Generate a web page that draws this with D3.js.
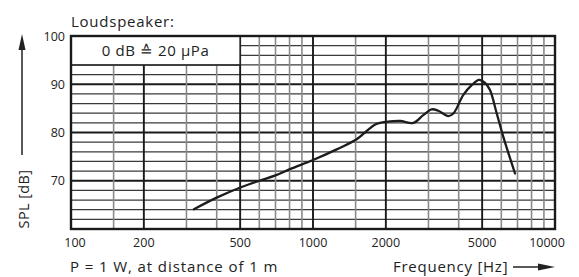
<!DOCTYPE html>
<html><head><meta charset="utf-8">
<script src="https://cdn.jsdelivr.net/npm/d3@7"></script>
<style>
html,body{margin:0;padding:0;background:#fff;}
svg{display:block;font-family:"Open Sans","Noto Sans",sans-serif;}
</style></head>
<body>
<svg id="c" width="579" height="277"></svg>
<script>
// ---- data ----
const freqHz = [322, 400, 507, 600, 700, 803, 1000, 1253, 1515, 1693, 1800, 1892, 2000, 2288, 2598, 2855, 3092, 3296, 3625, 3810, 4180, 4527, 4853, 5140, 5387, 5741, 6116, 6836];
const splDb  = [64.1, 66.5, 68.7, 70.0, 71.1, 72.4, 74.3, 76.5, 78.6, 80.6, 81.6, 82.0, 82.2, 82.4, 82.0, 83.6, 84.8, 84.5, 83.4, 84.0, 87.8, 89.8, 90.9, 90.3, 88.8, 84.0, 79.1, 71.5];
const xTickValues = [100, 200, 500, 1000, 2000, 5000, 10000];
const xTickLabels = ["100", "200", "500", "1000", "2000", "5000", "10000"];
const xGridMajor = [200, 500, 1000, 2000, 5000];
const xGridMinor = [150, 300, 400, 600, 700, 800, 900, 1500, 3000, 4000, 6000, 7000, 8000, 9000];
const yTickValues = [70, 80, 90, 100];
const yGridValues = [62, 64, 66, 68, 70, 72, 74, 76, 78, 80, 82, 84, 86, 88, 90, 92, 94, 96, 98];
const titleText = "Loudspeaker:";
const boxText = "0 dB \u2259 20 \u00B5Pa";
const yLabel = "SPL [dB]";
const xLabel = "Frequency [Hz]";
const noteText = "P = 1 W, at distance of 1 m";

// ---- layout ----
const L = 71, R = 555, T = 36, B = 229;
const svg = d3.select("#c");
const x = d3.scaleLog().domain([100, 10000]).range([L, R]);
const y = d3.scaleLinear().domain([60, 100]).range([B, T]);
const ink = "#222";

// grid
const g = svg.append("g");
g.selectAll("line.hy").data(yGridValues).join("line")
  .attr("x1", L).attr("x2", R)
  .attr("y1", d => y(d)).attr("y2", d => y(d))
  .attr("stroke", d => d % 10 === 0 ? "#1a1a1a" : "#3a3a3a")
  .attr("stroke-width", d => d % 10 === 0 ? 1.8 : 1.3);
g.selectAll("line.vmin").data(xGridMinor).join("line")
  .attr("x1", d => x(d)).attr("x2", d => x(d))
  .attr("y1", T).attr("y2", B)
  .attr("stroke", "#8a8a8a").attr("stroke-width", 1.6);
g.selectAll("line.vmaj").data(xGridMajor).join("line")
  .attr("x1", d => x(d)).attr("x2", d => x(d))
  .attr("y1", T).attr("y2", B)
  .attr("stroke", "#1a1a1a").attr("stroke-width", 1.9);

// box
svg.append("rect")
  .attr("x", x(100)).attr("y", y(100))
  .attr("width", x(500) - x(100)).attr("height", y(94) - y(100))
  .attr("fill", "#fff").attr("stroke", ink).attr("stroke-width", 1.6);
svg.append("text")
  .attr("x", (x(100) + x(500)) / 2).attr("y", (y(100) + y(94)) / 2)
  .attr("text-anchor", "middle").attr("dominant-baseline", "central")
  .attr("font-size", 15).attr("letter-spacing", 0.6).attr("fill", ink).text(boxText);

// frame
svg.append("rect").attr("x", L).attr("y", T).attr("width", R - L).attr("height", B - T)
  .attr("fill", "none").attr("stroke", "#1a1a1a").attr("stroke-width", 2.4);

// curve
const line = d3.line().x((d, i) => x(freqHz[i])).y(d => y(d)).curve(d3.curveCatmullRom.alpha(0.5));
svg.append("path").attr("d", line(splDb))
  .attr("fill", "none").attr("stroke", "#1c1c1c").attr("stroke-width", 2.3)
  .attr("stroke-linecap", "round").attr("stroke-linejoin", "round");

// x tick labels
svg.selectAll("text.xt").data(xTickValues).join("text")
  .attr("x", (d, i) => x(d) + (i === 0 ? 4 : (i === xTickValues.length - 1 ? -8 : 0)))
  .attr("y", 247)
  .attr("text-anchor", "middle").attr("font-size", 12.5).attr("fill", ink)
  .text((d, i) => xTickLabels[i]);

// y tick labels
svg.selectAll("text.yt").data(yTickValues).join("text")
  .attr("x", 65).attr("y", d => y(d))
  .attr("text-anchor", "end").attr("dominant-baseline", "central")
  .attr("font-size", 12.5).attr("fill", ink).text(d => d);

// title
svg.append("text").attr("x", L).attr("y", 27).attr("font-size", 15).attr("letter-spacing", 0.75)
  .attr("fill", ink).text(titleText);

// y label + arrow
svg.append("text").attr("transform", "translate(23,199) rotate(-90)")
  .attr("text-anchor", "middle").attr("dominant-baseline", "central")
  .attr("font-size", 14.5).attr("letter-spacing", 0.4).attr("fill", ink).text(yLabel);
svg.append("line").attr("x1", 22).attr("x2", 22).attr("y1", 155).attr("y2", 45)
  .attr("stroke", ink).attr("stroke-width", 1.5);
svg.append("path").attr("d", "M22,34 L25.5,50 L18.5,50 Z").attr("fill", ink);

// bottom texts
svg.append("text").attr("x", 70).attr("y", 272).attr("font-size", 15).attr("letter-spacing", 0.9)
  .attr("fill", ink).text(noteText);
svg.append("text").attr("x", 393).attr("y", 272)
  .attr("font-size", 15).attr("letter-spacing", 0.75).attr("fill", ink).text(xLabel);
svg.append("line").attr("x1", 513).attr("x2", 542).attr("y1", 267).attr("y2", 267)
  .attr("stroke", ink).attr("stroke-width", 1.5);
svg.append("path").attr("d", "M555,267 L538,263.5 L538,270.5 Z").attr("fill", ink);
</script>
</body></html>
